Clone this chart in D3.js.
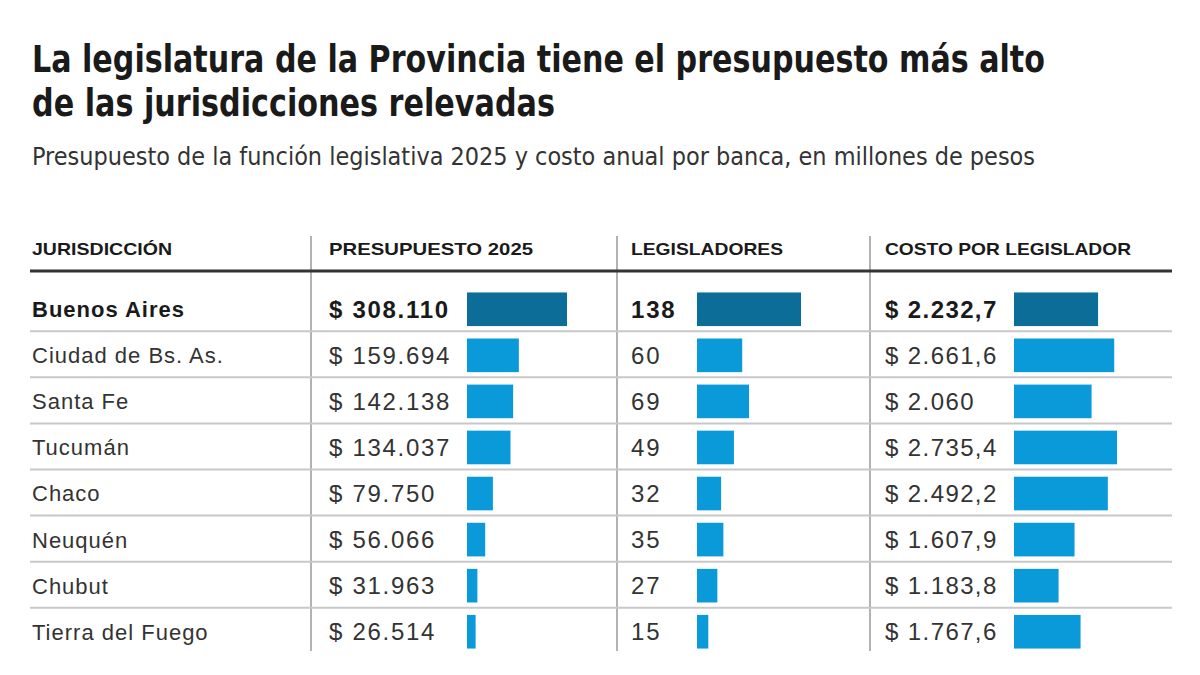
<!DOCTYPE html>
<html>
<head>
<meta charset="utf-8">
<script src="https://cdn.jsdelivr.net/npm/d3@7"></script>
<style>
  body { margin: 0; background: #fff; }
  svg { display: block; }
</style>
</head>
<body>
<div id="chart"></div>
<script>
// Data
const jurisdictions = ["Buenos Aires", "Ciudad de Bs. As.", "Santa Fe", "Tucumán", "Chaco", "Neuquén", "Chubut", "Tierra del Fuego"];
const budget = [308110, 159694, 142138, 134037, 79750, 56066, 31963, 26514];
const legislators = [138, 60, 69, 49, 32, 35, 27, 15];
const costPerSeat = [2232.7, 2661.6, 2060, 2735.4, 2492.2, 1607.9, 1183.8, 1767.6];
const headers = ["JURISDICCIÓN", "PRESUPUESTO 2025", "LEGISLADORES", "COSTO POR LEGISLADOR"];

const width = 1200, height = 675;
const condensed = "'DejaVu Sans Condensed', 'Liberation Sans Narrow', sans-serif";
const body = "'Liberation Sans', Arial, sans-serif";
const dark = "#0b6d98", light = "#0a9ad9";

// Spanish number format
const es = d3.formatLocale({decimal: ",", thousands: ".", grouping: [3], currency: ["$ ", ""]});
const fmtInt = es.format(",d");
const fmtCost = v => Number.isInteger(v) ? es.format(",d")(v) : es.format(",.1f")(v);

const svg = d3.select("#chart").append("svg")
    .attr("width", width)
    .attr("height", height);

// Title & subtitle (squeezed to the reference width)
svg.append("text")
    .attr("x", 32).attr("y", 72)
    .attr("font-family", condensed)
    .attr("font-weight", "bold")
    .attr("font-size", 37)
    .attr("fill", "#1a1a1a")
    .attr("textLength", 1013)
    .attr("lengthAdjust", "spacingAndGlyphs")
    .text("La legislatura de la Provincia tiene el presupuesto más alto");

svg.append("text")
    .attr("x", 32).attr("y", 116)
    .attr("font-family", condensed)
    .attr("font-weight", "bold")
    .attr("font-size", 37)
    .attr("fill", "#1a1a1a")
    .attr("textLength", 523)
    .attr("lengthAdjust", "spacingAndGlyphs")
    .text("de las jurisdicciones relevadas");

svg.append("text")
    .attr("x", 32).attr("y", 165)
    .attr("font-family", condensed)
    .attr("font-size", 24)
    .attr("fill", "#333")
    .attr("textLength", 1003)
    .attr("lengthAdjust", "spacingAndGlyphs")
    .text("Presupuesto de la función legislativa 2025 y costo anual por banca, en millones de pesos");

// Columns
const colX = [30, 311, 617, 870];
const textPad = [2, 18, 14, 15];
const headerLen = [140, 204, 152, 246];
const barStart = [null, 467, 697, 1014];

const y = d3.scaleBand()
    .domain(jurisdictions)
    .range([286, 655])
    .paddingInner(0.27)
    .paddingOuter(0.14);

const xBudget = d3.scaleLinear().domain([0, d3.max(budget)]).range([0, 100]);
const xLeg = d3.scaleLinear().domain([0, d3.max(legislators)]).range([0, 104]);
const xCost = d3.scaleLinear().domain([0, d3.max(costPerSeat)]).range([0, 103]);

// Vertical dividers
svg.selectAll(".vline")
    .data(colX.slice(1))
    .enter().append("line")
    .attr("class", "vline")
    .attr("x1", d => d).attr("x2", d => d)
    .attr("y1", 236).attr("y2", 651)
    .attr("stroke", "#666")
    .attr("stroke-width", 1);

// Headers
svg.selectAll(".header")
    .data(headers)
    .enter().append("text")
    .attr("class", "header")
    .attr("x", (d, i) => colX[i] + textPad[i])
    .attr("y", 255)
    .attr("font-family", body)
    .attr("font-weight", "bold")
    .attr("font-size", 17)
    .attr("fill", "#1a1a1a")
    .attr("textLength", (d, i) => headerLen[i])
    .attr("lengthAdjust", "spacingAndGlyphs")
    .text(d => d);

// Row separators
const step = y.step();
svg.selectAll(".hline")
    .data(jurisdictions.slice(1))
    .enter().append("line")
    .attr("class", "hline")
    .attr("x1", 30).attr("x2", 1172)
    .attr("y1", d => y(d) - y.paddingInner() * step / 2 - 1)
    .attr("y2", d => y(d) - y.paddingInner() * step / 2 - 1)
    .attr("stroke", "#c8c8c8")
    .attr("stroke-width", 2);

svg.append("line")
    .attr("x1", 30).attr("x2", 1172)
    .attr("y1", 271).attr("y2", 271)
    .attr("stroke", "#333")
    .attr("stroke-width", 3);

// Rows
const rows = jurisdictions.map((name, i) => ({
    name: name,
    budget: budget[i],
    legislators: legislators[i],
    cost: costPerSeat[i],
    main: i === 0
}));

const row = svg.selectAll(".row")
    .data(rows)
    .enter().append("g")
    .attr("class", "row")
    .attr("transform", d => `translate(0, ${y(d.name)})`);

const mid = y.bandwidth() / 2;

function addText(sel, x, size, spacing, fn) {
    sel.append("text")
        .attr("x", x)
        .attr("y", mid)
        .attr("dy", "0.36em")
        .attr("font-family", body)
        .attr("font-size", size)
        .attr("letter-spacing", spacing)
        .attr("font-weight", d => d.main ? "bold" : "normal")
        .attr("fill", d => d.main ? "#1a1a1a" : "#333")
        .text(fn);
}

addText(row, colX[0] + textPad[0], 22, 1, d => d.name);
addText(row, colX[1] + textPad[1], 24, 1.7, d => "$ " + fmtInt(d.budget));
addText(row, colX[2] + textPad[2], 24, 1.8, d => fmtInt(d.legislators));
addText(row, colX[3] + textPad[3], 24, 1.4, d => "$ " + fmtCost(d.cost));

function addBar(sel, x0, scale, key) {
    sel.append("rect")
        .attr("x", x0)
        .attr("y", 0)
        .attr("width", d => scale(d[key]))
        .attr("height", y.bandwidth())
        .attr("fill", d => d.main ? dark : light);
}

addBar(row, barStart[1], xBudget, "budget");
addBar(row, barStart[2], xLeg, "legislators");
addBar(row, barStart[3], xCost, "cost");
</script>
</body>
</html>
